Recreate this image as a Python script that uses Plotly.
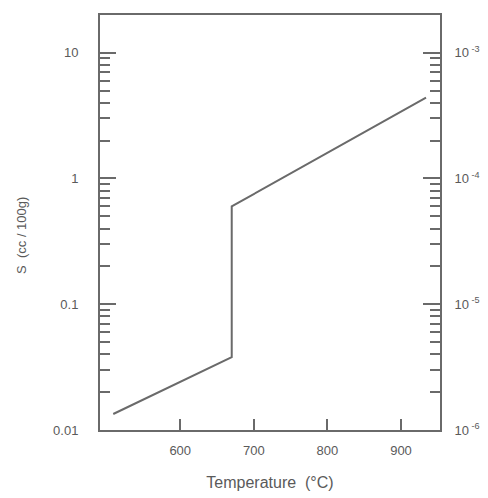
import plotly.graph_objects as go

temperature = [509, 670, 670, 934]
solubility = [0.0134, 0.038, 0.6, 4.4]

left_tickvals = [0.01, 0.1, 1, 10]
left_ticktext = ["0.01", "0.1", "1", "10"]
right_tickvals = [1e-6, 1e-5, 1e-4, 1e-3]
right_ticktext = ["10<sup> -6</sup>", "10<sup> -5</sup>", "10<sup> -4</sup>", "10<sup> -3</sup>"]
x_tickvals = [600, 700, 800, 900]

gray = "#6a6a6a"
txt = "#5a5a5a"
fam = "Liberation Sans, Arial, sans-serif"

# page body has an 8px offset; compensate in margins
L, T = 92, 5
PW, PH = 340, 417
W, H = 488, 498

fig = go.Figure()
fig.add_trace(go.Scatter(x=temperature, y=solubility, mode="lines",
                         line=dict(color=gray, width=2), showlegend=False))
fig.add_trace(go.Scatter(x=[temperature[0]], y=[solubility[0] * 1e-4], yaxis="y2",
                         mode="lines", line=dict(width=0), showlegend=False, hoverinfo="skip"))

ylo, yhi = -2, 1.3
fig.update_layout(
    width=W, height=H,
    margin=dict(l=L, r=W - L - PW, t=T, b=H - T - PH),
    paper_bgcolor="white", plot_bgcolor="white",
    font=dict(family=fam, size=13, color=txt),
    xaxis=dict(range=[491, 953], tickvals=x_tickvals, ticks="inside", ticklen=11,
               tickwidth=1.5, tickcolor=gray, showline=True, linecolor=gray,
               linewidth=2, mirror=True, showgrid=False, zeroline=False,
               ticklabelstandoff=7, tickfont=dict(size=13, color=txt),
               title=dict(text="Temperature  (°C)", font=dict(size=16, color=txt), standoff=20)),
    yaxis=dict(type="log", range=[ylo, yhi], tickvals=left_tickvals, ticktext=left_ticktext,
               ticks="inside", ticklen=16, tickwidth=1.5, tickcolor=gray,
               minor=dict(ticks="inside", ticklen=10, tickwidth=1.5, tickcolor=gray, showgrid=False,
                          dtick="D1"),
               showline=True, linecolor=gray, linewidth=2, mirror=False,
               showgrid=False, zeroline=False, ticklabelstandoff=17,
               tickfont=dict(size=13, color=txt)),
    yaxis2=dict(type="log", range=[ylo - 4, yhi - 4], overlaying="y", side="right",
                tickvals=right_tickvals, ticktext=right_ticktext,
                ticks="inside", ticklen=17, tickwidth=1.5, tickcolor=gray,
                minor=dict(ticks="inside", ticklen=10, tickwidth=1.5, tickcolor=gray, showgrid=False,
                           dtick="D1"),
                showline=True, linecolor=gray, linewidth=2,
                showgrid=False, zeroline=False, ticklabelstandoff=10,
                tickfont=dict(size=13, color=txt)),
    annotations=[dict(text="S  (cc / 100g)", xref="paper", yref="paper",
                      x=(22 - 8 - L) / PW, y=(T + PH - (235 - 8)) / PH,
                      xanchor="center", yanchor="middle",
                      showarrow=False, textangle=-90, font=dict(size=13, color=txt))],
)

fig.write_html("out.html")
